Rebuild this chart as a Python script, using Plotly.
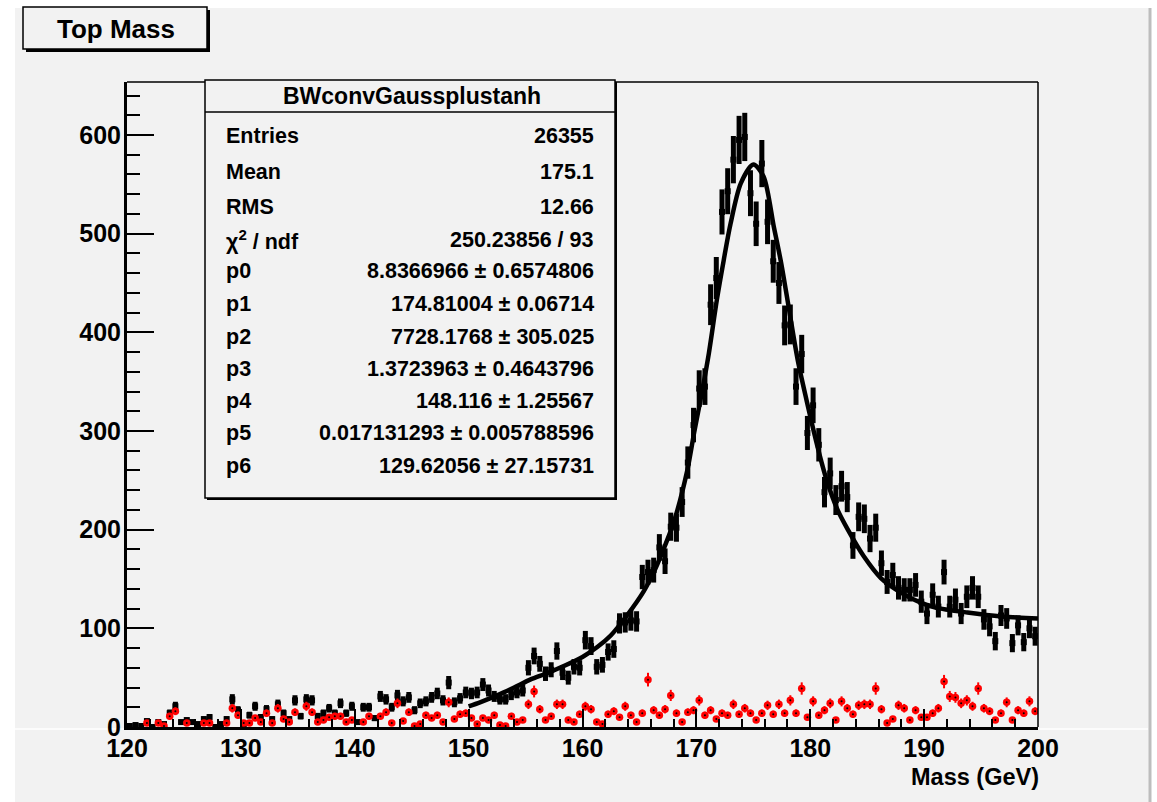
import numpy as np
import plotly.graph_objects as go

# ---------------- data ----------------
bin_low, bin_width = 120.0, 0.5
black_counts = [1, 2, 1, 6, 0, 5, 3, 14, 21, 5,
                7, 5, 3, 8, 10, 0, 3, 8, 28, 17,
                3, 12, 21, 10, 18, 8, 23, 14, 8, 27,
                11, 28, 27, 11, 14, 19, 14, 24, 14, 21,
                5, 20, 20, 9, 31, 28, 20, 32, 26, 30,
                17, 24, 26, 30, 34, 27, 45, 25, 29, 35,
                34, 35, 43, 37, 31, 28, 28, 33, 35, 37,
                60, 72, 64, 54, 58, 77, 55, 50, 61, 60,
                88, 82, 61, 63, 76, 79, 105, 106, 108, 107,
                152, 157, 159, 182, 168, 203, 202, 228, 268, 306,
                343, 345, 428, 455, 522, 543, 575, 595, 598, 541,
                510, 571, 512, 472, 450, 407, 408, 345, 378, 298,
                326, 286, 238, 257, 230, 244, 233, 184, 213, 211,
                191, 202, 166, 147, 154, 141, 139, 139, 144, 127,
                115, 134, 122, 157, 122, 129, 115, 132, 141, 132,
                109, 102, 87, 113, 110, 85, 103, 86, 100, 92]

red_counts = [None, None, None, 4, None, 4, 1, 11, 16, None,
              4, None, None, 4, 4, None, None, 4, 19, 12,
              4, 4, 9, 5, 14, 4, 19, 8, 5, 15,
              None, 21, 15, 5, 7, 10, 11, 11, 5, 7,
              None, 5, 11, None, 11, 15, 4, 24, 6, 15,
              1, 3, 12, 9, 12, 5, 25, 8, 13, 14,
              9, 3, 9, 7, 12, 2, 1, 11, 5, 7,
              23, 36, 18, 7, 11, 23, 23, 7, 5, 13,
              21, 18, 5, 3, 13, 16, 10, 21, 12, 5,
              14, 48, 17, 12, 18, 32, 14, 5, 15, 17,
              27, 12, 17, 8, 14, 12, 23, 13, 19, 14,
              7, 14, 22, 13, 23, 14, 27, 14, 39, 10,
              26, 12, 17, 24, 7, 26, 19, 13, 22, 23,
              23, 39, 18, 4, 8, 22, 19, 7, 17, 10,
              10, 14, 19, 46, 31, 30, 24, 27, 21, 39,
              19, 16, 7, 14, 25, 7, 17, 14, 26, 16]

fit_mass = [150.0, 151.0, 152.5, 154.0, 155.4, 157.0, 158.4, 160.0, 161.3, 162.5,
            163.9, 165.4, 166.3, 166.9, 168.0, 169.2, 169.8, 170.5, 171.1, 171.8,
            172.4, 173.0, 173.9, 175.0, 175.9, 176.8, 177.4, 178.0, 178.9, 179.7,
            180.3, 181.0, 181.5, 182.4, 183.3, 184.7, 186.2, 188.0, 189.7, 191.0,
            193.8, 196.8, 200.0]
fit_value = [21, 25, 32, 40, 48, 55, 62, 71, 81, 93,
             113, 138, 158, 174, 207, 260, 298, 340, 379, 433,
             473, 510, 551, 570, 558, 507, 473, 433, 372, 330,
             300, 268, 248, 220, 200, 173, 151, 136, 126, 121,
             116, 112, 110]

stats_title = "BWconvGaussplustanh"
stat_labels = ["Entries", "Mean", "RMS", "χ<sup>2</sup> / ndf",
               "p0", "p1", "p2", "p3", "p4", "p5", "p6"]
stat_values = ["26355", "175.1", "12.66", "250.23856 / 93",
               "8.8366966 ± 0.6574806", "174.81004 ± 0.06714",
               "7728.1768 ± 305.025", "1.3723963 ± 0.4643796",
               "148.116 ± 1.25567", "0.017131293 ± 0.005788596",
               "129.62056 ± 27.15731"]
x_ticks = [120, 130, 140, 150, 160, 170, 180, 190, 200]
y_ticks = [0, 100, 200, 300, 400, 500, 600]
hist_title = "Top Mass"
x_title = "Mass (GeV)"

# ---------------- derived ----------------
n_bins = len(black_counts)
centers = bin_low + bin_width * (np.arange(n_bins) + 0.5)
black = np.array(black_counts, dtype=float)
red = np.array([np.nan if v is None else v for v in red_counts], dtype=float)

W, H = 1157, 802
L, R, T, B = 127, 1038, 82, 727
FONT = "Liberation Sans"
BG = "#f2f2f2"


def px(x):
    return (x - L) / (R - L)


def py(y):
    return (B - y) / (B - T)


fig = go.Figure()

fig.add_trace(go.Scatter(
    x=centers, y=black, mode="markers",
    marker=dict(symbol="square", size=6, color="black"),
    error_y=dict(type="data", array=np.sqrt(black), color="black",
                 thickness=5, width=0),
    showlegend=False, hoverinfo="x+y"))

fig.add_trace(go.Scatter(
    x=centers, y=red, mode="markers",
    marker=dict(symbol="circle", size=7.5, color="red"),
    error_y=dict(type="data", array=np.sqrt(red), color="red",
                 thickness=2, width=0),
    showlegend=False, hoverinfo="x+y"))

fig.add_trace(go.Scatter(
    x=centers, y=red, mode="markers",
    marker=dict(symbol="circle", size=2, color="black"),
    showlegend=False, hoverinfo="skip"))

fig.add_trace(go.Scatter(
    x=fit_mass, y=fit_value, mode="lines",
    line=dict(color="black", width=4.5, shape="spline", smoothing=0.8),
    showlegend=False, hoverinfo="skip"))

ymax = (B - T) / 0.9867

tick_font = dict(family=FONT, size=25, color="black", weight="bold")
fig.update_xaxes(
    range=[120, 200], tickvals=x_ticks, ticktext=[str(v) for v in x_ticks],
    ticks="inside", ticklen=18, tickwidth=2, tickcolor="black",
    minor=dict(dtick=2, tick0=120, ticks="inside", ticklen=8, tickwidth=2, tickcolor="black"),
    showline=True, linecolor="black", linewidth=3,
    showgrid=False, zeroline=False,
    tickfont=tick_font, ticklabelstandoff=-3)
fig.update_yaxes(
    range=[0, ymax], tickvals=y_ticks, ticktext=[str(v) for v in y_ticks],
    ticks="inside", ticklen=27, tickwidth=2, tickcolor="black",
    minor=dict(dtick=20, tick0=0, ticks="inside", ticklen=13, tickwidth=2, tickcolor="black"),
    showline=True, linecolor="black", linewidth=3,
    showgrid=False, zeroline=False,
    tickfont=tick_font, ticklabelstandoff=-2)

shapes = []
# white outer strips
shapes.append(dict(type="rect", xref="paper", yref="paper", x0=px(0), x1=px(W), y0=py(0), y1=py(8),
                   fillcolor="white", line_width=0, layer="below"))
shapes.append(dict(type="rect", xref="paper", yref="paper", x0=px(0), x1=px(15), y0=py(0), y1=py(H),
                   fillcolor="white", line_width=0, layer="below"))
shapes.append(dict(type="rect", xref="paper", yref="paper", x0=px(1149), x1=px(W), y0=py(0), y1=py(H),
                   fillcolor="white", line_width=0, layer="below"))
shapes.append(dict(type="line", xref="paper", yref="paper", x0=px(1150), x1=px(1150), y0=py(8), y1=py(H),
                   line=dict(color="#bdbdbd", width=3), layer="below"))
# white line at frame bottom across canvas
shapes.append(dict(type="line", xref="paper", yref="paper", x0=px(15), x1=px(1148), y0=py(729), y1=py(729),
                   line=dict(color="white", width=1.5), layer="below"))
# frame top / right
shapes.append(dict(type="line", xref="paper", yref="paper", x0=px(L), x1=px(R), y0=py(T), y1=py(T),
                   line=dict(color="black", width=1.5)))
shapes.append(dict(type="line", xref="paper", yref="paper", x0=px(R), x1=px(R), y0=py(T), y1=py(B),
                   line=dict(color="black", width=1.5)))
# title box with shadow
shapes.append(dict(type="rect", xref="paper", yref="paper", x0=px(26), x1=px(210), y0=py(10), y1=py(52),
                   fillcolor="black", line_width=0))
shapes.append(dict(type="rect", xref="paper", yref="paper", x0=px(23), x1=px(207), y0=py(7), y1=py(49),
                   fillcolor=BG, line=dict(color="black", width=1.5)))
# stats box
shapes.append(dict(type="rect", xref="paper", yref="paper", x0=px(207), x1=px(617), y0=py(82), y1=py(500),
                   fillcolor="black", line_width=0))
shapes.append(dict(type="rect", xref="paper", yref="paper", x0=px(205), x1=px(615), y0=py(80), y1=py(498),
                   fillcolor=BG, line=dict(color="black", width=1.5)))
shapes.append(dict(type="line", xref="paper", yref="paper", x0=px(205), x1=px(615), y0=py(112), y1=py(112),
                   line=dict(color="black", width=1.5)))

annotations = []
annotations.append(dict(text=hist_title, xref="paper", yref="paper", x=px(116), y=py(29),
                        xanchor="center", yanchor="middle", showarrow=False,
                        font=dict(family=FONT, size=26, color="black", weight="bold")))
annotations.append(dict(text=stats_title, xref="paper", yref="paper", x=px(412), y=py(96),
                        xanchor="center", yanchor="middle", showarrow=False,
                        font=dict(family=FONT, size=23, color="black", weight="bold")))
row_y = [136, 172, 207, 240, 271, 304, 337, 369, 401, 433, 466]
for lab, val, yy in zip(stat_labels, stat_values, row_y):
    annotations.append(dict(text=lab, xref="paper", yref="paper", x=px(224), y=py(yy),
                            xanchor="left", yanchor="middle", showarrow=False,
                            font=dict(family=FONT, size=21.5, color="black", weight="bold")))
    annotations.append(dict(text=val, xref="paper", yref="paper", x=px(596), y=py(yy),
                            xanchor="right", yanchor="middle", showarrow=False,
                            font=dict(family=FONT, size=21.5, color="black", weight="bold")))
annotations.append(dict(text=x_title, xref="paper", yref="paper", x=px(1041), y=py(777),
                        xanchor="right", yanchor="middle", showarrow=False,
                        font=dict(family=FONT, size=23.5, color="black", weight="bold")))

fig.update_layout(
    width=W, height=H,
    margin=dict(l=L, r=W - R, t=T, b=H - B),
    paper_bgcolor=BG, plot_bgcolor=BG,
    shapes=shapes, annotations=annotations,
    showlegend=False)

fig.write_html("out.html", config={"displayModeBar": False},
               post_script="document.body.style.margin='0px';")
